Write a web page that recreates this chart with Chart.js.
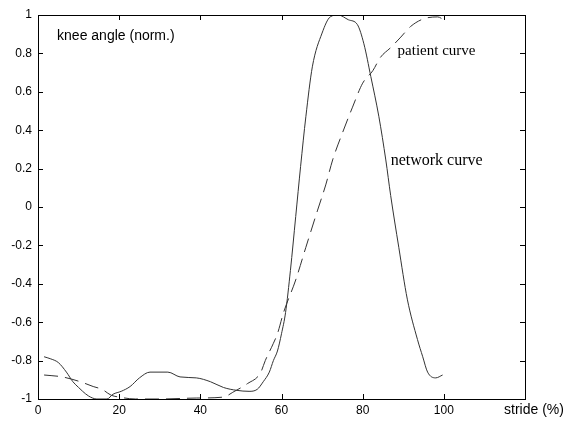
<!DOCTYPE html>
<html>
<head>
<meta charset="utf-8">
<script src="https://cdn.jsdelivr.net/npm/chart.js@4"></script>
<style>
html,body{margin:0;padding:0;background:#fff;}
#wrap{width:564px;height:421px;}
</style>
</head>
<body>
<div id="wrap"><canvas id="c" width="564" height="421"></canvas></div>
<script>
const netX = [1.5, 3, 5, 7, 8.6, 10, 11, 12.5, 14.5, 17, 18.5, 20.5, 22.7, 25, 27.6, 32, 35, 39, 42.5, 45.7, 49, 52, 54, 55.5, 57, 58, 59, 60, 61, 62.2, 63.5, 64.7, 66, 67.6, 70, 72, 74, 76.5, 78.7, 80.3, 82, 84, 85.7, 86.9, 88.9, 91, 93.5, 94.8, 96, 98, 99.7];
const netY = [-0.78, -0.79, -0.81, -0.86, -0.91, -0.94, -0.96, -0.985, -1.0, -1.0, -0.975, -0.96, -0.935, -0.89, -0.86, -0.86, -0.885, -0.89, -0.91, -0.94, -0.955, -0.96, -0.95, -0.91, -0.86, -0.80, -0.75, -0.66, -0.55, -0.33, -0.05, 0.21, 0.47, 0.73, 0.906, 0.99, 1.0, 0.975, 0.95, 0.85, 0.68, 0.47, 0.245, 0.06, -0.21, -0.48, -0.69, -0.78, -0.86, -0.89, -0.875];
const patX = [1.5, 6, 10.4, 13.6, 15.8, 18, 20, 24, 30, 39, 45.7, 48, 51.6, 54.8, 56, 58, 59, 60.5, 63.5, 66, 68.9, 70.9, 72.6, 75, 77.5, 80, 82.5, 84.4, 86.9, 89.4, 91.8, 95, 98.5, 100];
const patY = [-0.875, -0.885, -0.91, -0.935, -0.95, -0.98, -0.99, -1.0, -1.0, -0.995, -0.99, -0.965, -0.92, -0.865, -0.8, -0.71, -0.66, -0.55, -0.38, -0.21, -0.016, 0.115, 0.245, 0.385, 0.52, 0.645, 0.71, 0.78, 0.83, 0.885, 0.94, 0.98, 0.99, 0.975];
const xTicks = [0, 20, 40, 60, 80, 100];
const yTicks = [-1, -0.8, -0.6, -0.4, -0.2, 0, 0.2, 0.4, 0.6, 0.8, 1];
const xAxisTitle = 'stride (%)';
const notes = [
  {text: 'knee angle (norm.)', x: 4.7, y: 0.89, font: '14px "Liberation Sans", Arial, sans-serif'},
  {text: 'patient curve', x: 88.6, y: 0.81, font: '15px "Liberation Serif", "Times New Roman", serif'},
  {text: 'network curve', x: 86.9, y: 0.24, font: '16px "Liberation Serif", "Times New Roman", serif'}
];

const toPts = (xs, ys) => xs.map((x, i) => ({x: x, y: ys[i]}));

const boxPlugin = {
  id: 'box',
  afterDraw(chart) {
    const ctx = chart.ctx, a = chart.chartArea;
    const xs = chart.scales.x, ys = chart.scales.y;
    ctx.save();
    ctx.strokeStyle = '#000';
    ctx.lineWidth = 1;
    ctx.strokeRect(Math.round(a.left) + 0.5, Math.round(a.top) + 0.5, Math.round(a.right - a.left), Math.round(a.bottom - a.top));
    const L = 5;
    ctx.beginPath();
    xTicks.concat([120]).forEach(v => {
      const p = Math.round(xs.getPixelForValue(v)) + 0.5;
      ctx.moveTo(p, a.bottom); ctx.lineTo(p, a.bottom - L);
      ctx.moveTo(p, a.top); ctx.lineTo(p, a.top + L);
    });
    yTicks.forEach(v => {
      const p = Math.round(ys.getPixelForValue(v)) + 0.5;
      ctx.moveTo(a.left, p); ctx.lineTo(a.left + L, p);
      ctx.moveTo(a.right, p); ctx.lineTo(a.right - L, p);
    });
    ctx.stroke();
    ctx.fillStyle = '#000';
    ctx.font = '14px "Liberation Sans", Arial, sans-serif';
    ctx.textAlign = 'center';
    ctx.textBaseline = 'middle';
    ctx.fillText(xAxisTitle, a.right + 9, a.bottom + 11);
    ctx.textAlign = 'left';
    notes.forEach(n => {
      ctx.font = n.font;
      ctx.fillText(n.text, xs.getPixelForValue(n.x), ys.getPixelForValue(n.y));
    });
    ctx.restore();
  }
};

new Chart(document.getElementById('c'), {
  type: 'scatter',
  data: {
    datasets: [
      {label: 'network curve', data: toPts(netX, netY), showLine: true, borderColor: '#333', borderWidth: 1, pointRadius: 0, cubicInterpolationMode: 'monotone'},
      {label: 'patient curve', data: toPts(patX, patY), showLine: true, borderColor: '#333', borderWidth: 1, borderDash: [14, 7], pointRadius: 0, cubicInterpolationMode: 'monotone'}
    ]
  },
  options: {
    responsive: false,
    animation: false,
    events: [],
    layout: {padding: {top: 15, right: 39, left: 0, bottom: 0}},
    plugins: {legend: {display: false}, tooltip: {enabled: false}},
    scales: {
      x: {
        type: 'linear', min: 0, max: 120,
        afterBuildTicks: s => { s.ticks = xTicks.map(v => ({value: v})); },
        afterFit: s => { s.height = 22; },
        grid: {display: false, drawTicks: false},
        border: {display: false},
        ticks: {color: '#000', padding: 4, maxRotation: 0, font: {family: '"Liberation Sans", Arial, sans-serif', size: 12}, callback: v => String(v)}
      },
      y: {
        min: -1, max: 1,
        afterBuildTicks: s => { s.ticks = yTicks.map(v => ({value: v})); },
        afterFit: s => { s.width = 38; },
        grid: {display: false, drawTicks: false},
        border: {display: false},
        ticks: {color: '#000', padding: 6, font: {family: '"Liberation Sans", Arial, sans-serif', size: 12}, callback: v => { const r = Math.round(v * 10) / 10; return r === 0 ? '0' : String(r); }}
      }
    }
  },
  plugins: [boxPlugin]
});
</script>
</body>
</html>
